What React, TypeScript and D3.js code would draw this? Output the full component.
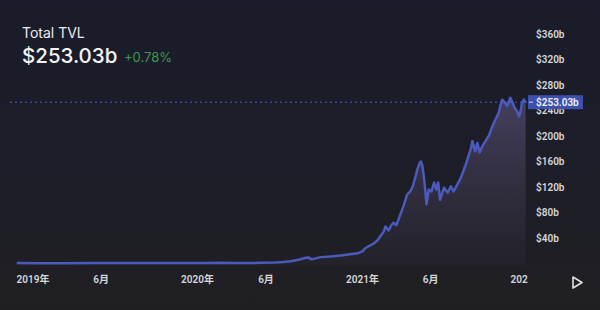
import React from "react";
import * as d3 from "d3";

const dates: string[] = [
  "2018-11-26", "2019-01-15", "2019-03-15", "2019-05-15", "2019-07-01", "2019-09-15",
  "2019-11-15", "2020-01-15", "2020-02-20", "2020-03-20", "2020-05-20", "2020-06-22",
  "2020-07-08", "2020-07-25", "2020-08-12", "2020-08-28", "2020-09-03", "2020-09-10",
  "2020-09-30", "2020-10-22", "2020-11-13", "2020-12-05", "2020-12-21", "2021-01-01",
  "2021-01-07", "2021-01-14", "2021-01-25", "2021-02-03", "2021-02-10", "2021-02-17",
  "2021-02-21", "2021-02-28", "2021-03-06", "2021-03-11", "2021-03-17", "2021-03-22",
  "2021-03-26", "2021-04-02", "2021-04-10", "2021-04-17", "2021-04-23", "2021-04-29",
  "2021-05-03", "2021-05-08", "2021-05-11", "2021-05-14", "2021-05-17", "2021-05-21",
  "2021-05-23", "2021-05-28", "2021-06-03", "2021-06-09", "2021-06-14", "2021-06-18",
  "2021-06-22", "2021-07-01", "2021-07-09", "2021-07-16", "2021-07-22", "2021-07-29",
  "2021-08-07", "2021-08-18", "2021-08-24", "2021-08-29", "2021-09-02", "2021-09-08",
  "2021-09-13", "2021-09-18", "2021-09-24", "2021-09-29", "2021-10-08", "2021-10-19",
  "2021-10-30", "2021-11-03", "2021-11-07", "2021-11-13", "2021-11-18", "2021-11-25",
  "2021-11-30", "2021-12-05", "2021-12-10", "2021-12-14", "2021-12-17", "2021-12-21",
  "2021-12-25", "2021-12-29",
];

const tvl: number[] = [
  0.6, 0.5, 0.55, 0.7, 0.8, 0.65,
  0.65, 0.7, 1.0, 0.6, 1.0, 1.6,
  2.2, 3.5, 6, 9, 9.5, 6.5,
  10, 11, 12.5, 14.5, 16, 19,
  24, 27, 31, 36, 43, 50,
  58, 52, 60, 64, 60, 69,
  77, 90, 108, 113, 122, 137,
  148, 158, 160, 153, 137, 110,
  93, 116, 113, 127, 116, 127,
  100, 119, 111, 121, 113, 122,
  134, 155, 168, 179, 192, 176,
  189, 174, 184, 190, 200, 220,
  236, 248, 257, 252, 247, 260,
  252, 244, 239, 231, 236, 252,
  257, 253.03,
];

const priceTicks: number[] = [40, 80, 120, 160, 200, 240, 280, 320, 360];
const timeTicks: string[] = ["2019-01-01", "2019-06-01", "2020-01-01", "2020-06-01", "2021-01-01", "2021-06-01", "2022-01-01"];
const timeTickLabels: string[] = ["2019年", "6月", "2020年", "6月", "2021年", "6月", "2022年"];

const title = "Total TVL";
const currentValue = "$253.03b";
const change = "+0.78%";

const W = 600;
const H = 310;
const plotLeft = 0;
const plotRight = 528;

export default function App() {
  const parse = d3.timeParse("%Y-%m-%d");
  const data = dates.map((d, i) => ({ date: parse(d) as Date, v: tvl[i] }));

  const x = d3
    .scaleTime()
    .domain([parse("2019-01-01") as Date, parse("2022-01-01") as Date])
    .range([33, 527]);
  const y = d3.scaleLinear().domain([0, 360]).range([263.5, 34]);

  const line = d3
    .line<{ date: Date; v: number }>()
    .x((d) => x(d.date))
    .y((d) => y(d.v));
  const area = d3
    .area<{ date: Date; v: number }>()
    .x((d) => x(d.date))
    .y0(y(0) + 2)
    .y1((d) => y(d.v));

  const last = data[data.length - 1];
  const lastY = y(last.v);
  const axisFont = "Roboto, 'Noto Sans CJK SC', sans-serif";

  return (
    <svg
      width={W}
      height={H}
      style={{ position: "absolute", left: 0, top: 0 }}
      xmlns="http://www.w3.org/2000/svg"
    >
      <defs>
        <linearGradient id="bg" x1="0" y1="0" x2="0" y2="1">
          <stop offset="0%" stopColor="#1a1c2b" />
          <stop offset="100%" stopColor="#1f1f23" />
        </linearGradient>
        <linearGradient id="areaFill" gradientUnits="userSpaceOnUse" x1="0" y1={y(260)} x2="0" y2={y(0)}>
          <stop offset="0%" stopColor="rgb(112,98,150)" stopOpacity={0.5} />
          <stop offset="100%" stopColor="rgb(90,80,110)" stopOpacity={0.08} />
        </linearGradient>
        <clipPath id="plotClip">
          <rect x={plotLeft} y={0} width={plotRight - plotLeft} height={H} />
        </clipPath>
      </defs>
      <rect x={0} y={0} width={W} height={H} fill="url(#bg)" />

      <g clipPath="url(#plotClip)">
        <path d={area(data) || ""} fill="url(#areaFill)" />
        <line
          x1={10}
          x2={plotRight}
          y1={lastY}
          y2={lastY}
          stroke="#4c5fc4"
          strokeWidth={1}
          strokeDasharray="2,3"
        />
        <path d={line(data) || ""} fill="none" stroke="#4a5bbd" strokeWidth={2.5} strokeLinejoin="round" />
        {timeTicks.map((t, i) => (
          <text
            key={t}
            x={x(parse(t) as Date)}
            y={283}
            textAnchor="middle"
            fontFamily={axisFont}
            fontSize={10}
            fontWeight={600}
            fill="#d6d6d8"
          >
            {timeTickLabels[i]}
          </text>
        ))}
      </g>

      {priceTicks.map((p) => (
        <text
          key={p}
          x={536}
          y={y(p) + 3.5}
          fontFamily={axisFont}
          fontSize={10}
          fontWeight={600}
          fill="#d6d6d8"
        >
          {`$${p}b`}
        </text>
      ))}

      <rect x={528} y={lastY - 7} width={55} height={14} fill="#3d50ac" />
      <line x1={529} x2={533} y1={lastY} y2={lastY} stroke="#c9cff0" strokeWidth={1} />
      <text
        x={536}
        y={lastY + 3.5}
        fontFamily={axisFont}
        fontSize={10}
        fontWeight={600}
        fill="#eef0ff"
      >
        {currentValue}
      </text>

      <text x={22} y={38} fontFamily="Inter, sans-serif" fontSize={14} fill="#ececf0">
        {title}
      </text>
      <text x={22} y={63} fontFamily="Inter, sans-serif" fontSize={20.5} fontWeight={500} fill="#f4f4f6">
        {currentValue}
      </text>
      <text x={124} y={62} fontFamily="Inter, sans-serif" fontSize={13} fill="#3a9a4c">
        {change}
      </text>

      <path
        d="M573,277 L582,282.5 L573,288 Z"
        fill="none"
        stroke="#e0e0e4"
        strokeWidth={1.6}
        strokeLinejoin="round"
      />
    </svg>
  );
}
